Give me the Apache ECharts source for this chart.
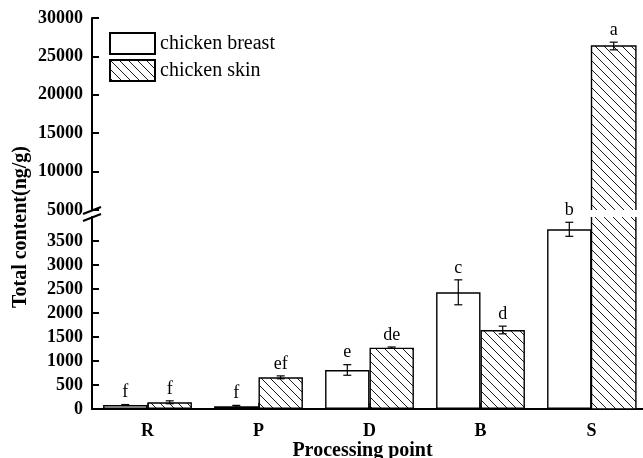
<!DOCTYPE html>
<html><head><meta charset="utf-8">
<script src="https://cdn.jsdelivr.net/npm/echarts@6/dist/echarts.min.js"></script>
<style>html,body{margin:0;padding:0;background:#fff}#c{width:643px;height:458px}</style>
</head><body><div id="c"></div>
<script>
// ---- data ----
const categories = ['R', 'P', 'D', 'B', 'S'];
const breast = [83, 55, 813, 2431, 3744];
const breastErr = [10, 20, 110, 260, 146];
const skin = [140, 660, 1277, 1646, 26354];
const skinErr = [30, 30, 15, 80, 500];
const breastLetters = ['f', 'f', 'e', 'c', 'b'];
const skinLetters = ['f', 'ef', 'de', 'd', 'a'];
const upperTicks = [5000, 10000, 15000, 20000, 25000, 30000];
const lowerTicks = [0, 500, 1000, 1500, 2000, 2500, 3000, 3500];
const UPPER_MIN = 5000, UPPER_MAX = 30000, LOWER_MAX = 4000;

const FONT = '"Liberation Serif","Times New Roman",serif';

function hatch() {
  const c = document.createElement('canvas');
  c.width = 9; c.height = 9;
  const g = c.getContext('2d');
  g.fillStyle = '#fff'; g.fillRect(0, 0, 9, 9);
  g.strokeStyle = '#1a1a1a'; g.lineWidth = 1;
  for (const o of [-9, 0, 9]) { g.beginPath(); g.moveTo(o, 0); g.lineTo(o + 9, 9); g.stroke(); }
  return c;
}
const hatchColor = { image: hatch(), repeat: 'repeat' };

// items for error bars / letters
const items = [];
categories.forEach((c, i) => {
  items.push({ i, v: breast[i], e: breastErr[i], t: breastLetters[i], side: -1 });
  items.push({ i, v: skin[i], e: skinErr[i], t: skinLetters[i], side: 1 });
});
const lowerItems = items;
const upperItems = items.filter(d => d.v > UPPER_MIN);

function makeRender(list, isUpper) {
  return function (params, api) {
    const d = list[params.dataIndex];
    const band = api.size([1, 0])[0];
    const cx = api.coord([d.i, 0])[0] + d.side * band * 0.2;
    const half = band * 0.2;
    const children = [];
    const lineStyle = { stroke: '#000', lineWidth: 1.2, fill: null };
    if (!isUpper && d.v > LOWER_MAX) {
      const yT = api.coord([d.i, LOWER_MAX])[1], yB = api.coord([d.i, 0])[1];
      children.push({ type: 'polyline', shape: { points: [[cx - half, yT], [cx - half, yB], [cx + half, yB], [cx + half, yT]] }, style: { stroke: '#000', lineWidth: 1.4, fill: null } });
      return { type: 'group', children };
    }
    if (isUpper) {
      const yT = api.coord([d.i, d.v])[1], yB = api.coord([d.i, UPPER_MIN])[1];
      children.push({ type: 'polyline', shape: { points: [[cx - half, yB], [cx - half, yT], [cx + half, yT], [cx + half, yB]] }, style: { stroke: '#000', lineWidth: 1.4, fill: null } });
    }
    const yHi = api.coord([d.i, d.v + d.e])[1];
    const yLo = api.coord([d.i, Math.max(0, d.v - d.e)])[1];
    const cap = 4;
    children.push({ type: 'line', shape: { x1: cx, y1: yHi, x2: cx, y2: yLo }, style: lineStyle });
    children.push({ type: 'line', shape: { x1: cx - cap, y1: yHi, x2: cx + cap, y2: yHi }, style: lineStyle });
    children.push({ type: 'line', shape: { x1: cx - cap, y1: yLo, x2: cx + cap, y2: yLo }, style: lineStyle });
    children.push({ type: 'text', style: { text: d.t, x: cx, y: yHi - 3, align: 'center', verticalAlign: 'bottom', fontSize: 18, fontFamily: FONT, fill: '#000' } });
    return { type: 'group', children };
  };
}

const axisLabelStyle = { fontSize: 18, fontWeight: 'bold', fontFamily: FONT, color: '#000' };
const axisLineStyle = { show: true, lineStyle: { color: '#000', width: 2 } };
const plain = v => String(v);

const lowerSkinData = skin.map(v => v > LOWER_MAX ? { value: v, itemStyle: { borderWidth: 0 } } : v);
const upperSkinData = skin.map(v => v > UPPER_MIN ? { value: v, itemStyle: { borderWidth: 0 } } : '-');
const upperBreastData = breast.map(v => v > UPPER_MIN ? { value: v, itemStyle: { borderWidth: 0 } } : '-');

const chart = echarts.init(document.getElementById('c'), null, { renderer: 'canvas' });
const option = {
  animation: false,
  backgroundColor: '#fff',
  textStyle: { fontFamily: FONT },
  grid: [
    { left: 92, right: -4, top: 18, bottom: 248, containLabel: false, outerBoundsMode: 'none' },
    { left: 92, right: -4, top: 217, bottom: 49, containLabel: false, outerBoundsMode: 'none' }
  ],
  legend: {
    orient: 'vertical', left: 109, top: 32, padding: 0, itemWidth: 45, itemHeight: 21, itemGap: 4,
    icon: 'rect', data: ['chicken breast', 'chicken skin'],
    textStyle: { fontSize: 20, fontFamily: FONT, color: '#000' }
  },
  xAxis: [
    { type: 'category', gridIndex: 0, data: categories, show: false },
    {
      type: 'category', gridIndex: 1, data: categories,
      axisLine: axisLineStyle,
      axisTick: { show: true, inside: true, alignWithLabel: true, length: 6, lineStyle: { color: '#000', width: 1.5 } },
      axisLabel: Object.assign({ margin: 13 }, axisLabelStyle),
      name: 'Processing point', nameLocation: 'middle', nameGap: 27,
      nameTextStyle: { fontSize: 20, fontWeight: 'bold', fontFamily: FONT, color: '#000', padding: [0, 14, 0, 0] }
    }
  ],
  yAxis: [
    {
      type: 'value', gridIndex: 0, min: UPPER_MIN, max: UPPER_MAX, interval: 5000,
      axisLine: axisLineStyle,
      axisTick: { show: true, inside: true, length: 7, lineStyle: { color: '#000', width: 2 }, customValues: upperTicks },
      axisLabel: Object.assign({ margin: 9, customValues: upperTicks, formatter: plain }, axisLabelStyle),
      splitLine: { show: false }
    },
    {
      type: 'value', gridIndex: 1, min: 0, max: LOWER_MAX, interval: 500,
      axisLine: axisLineStyle,
      axisTick: { show: true, inside: true, length: 7, lineStyle: { color: '#000', width: 2 }, customValues: lowerTicks },
      axisLabel: Object.assign({ margin: 9, customValues: lowerTicks, formatter: plain }, axisLabelStyle),
      splitLine: { show: false }
    }
  ],
  series: [
    { name: 'chicken breast', type: 'bar', xAxisIndex: 1, yAxisIndex: 1, data: breast, barGap: '0%', barCategoryGap: '20%',
      itemStyle: { color: '#fff', borderColor: '#000', borderWidth: 1.4 } },
    { name: 'chicken skin', type: 'bar', xAxisIndex: 1, yAxisIndex: 1, data: lowerSkinData, barGap: '0%', barCategoryGap: '20%',
      itemStyle: { color: hatchColor, borderColor: '#000', borderWidth: 1.4 } },
    { name: 'chicken breast', type: 'bar', xAxisIndex: 0, yAxisIndex: 0, data: upperBreastData, barGap: '0%', barCategoryGap: '20%',
      itemStyle: { color: '#fff', borderColor: '#000', borderWidth: 1.4 } },
    { name: 'chicken skin', type: 'bar', xAxisIndex: 0, yAxisIndex: 0, data: upperSkinData, barGap: '0%', barCategoryGap: '20%',
      itemStyle: { color: hatchColor, borderColor: '#000', borderWidth: 1.4 } },
    { type: 'custom', xAxisIndex: 1, yAxisIndex: 1, data: lowerItems.map(d => [d.i, d.v]), renderItem: makeRender(lowerItems, false), clip: false, z: 5 },
    { type: 'custom', xAxisIndex: 0, yAxisIndex: 0, data: upperItems.map(d => [d.i, d.v]), renderItem: makeRender(upperItems, true), clip: false, z: 5 }
  ],
  graphic: [
    { type: 'text', x: 21, y: 227, rotation: Math.PI / 2,
      style: { text: 'Total content(ng/g)', align: 'center', verticalAlign: 'middle', fontSize: 20, fontWeight: 'bold', fontFamily: FONT, fill: '#000' } },
    { type: 'line', shape: { x1: 83, y1: 214, x2: 101, y2: 207 }, style: { stroke: '#000', lineWidth: 2 } },
    { type: 'line', shape: { x1: 83, y1: 221, x2: 101, y2: 214 }, style: { stroke: '#000', lineWidth: 2 } }
  ]
};
chart.setOption(option);
</script>
</body></html>
